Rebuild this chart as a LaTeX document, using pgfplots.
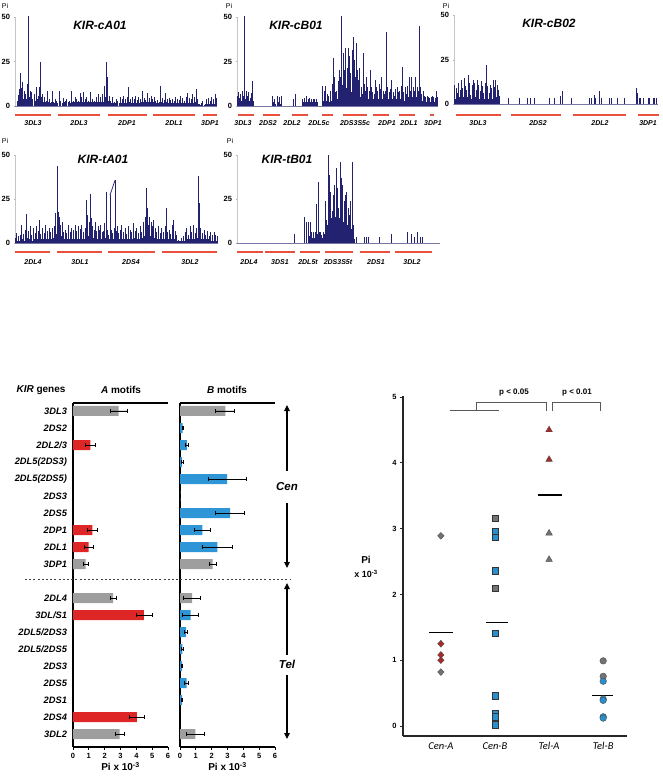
\documentclass[border=0pt]{standalone}
\usepackage{pgfplots}
\pgfplotsset{compat=1.18}
\usepackage{fontspec}
\setmainfont{Liberation Sans}
\newfontfamily\calib{Carlito}
\usetikzlibrary{arrows.meta}
\definecolor{navy}{RGB}{34,34,112}
\definecolor{navyl}{RGB}{120,120,165}
\definecolor{segred}{RGB}{234,80,62}
\definecolor{bgray}{RGB}{158,158,158}
\definecolor{bred}{RGB}{222,38,38}
\definecolor{bblue}{RGB}{46,150,215}
\definecolor{mred}{RGB}{172,40,40}
\definecolor{mgray}{RGB}{115,115,115}
\definecolor{mblue}{RGB}{40,142,206}
\pgfplotsset{
 spk/.style={scale only axis, anchor=south west, ymin=0, ymax=50, ytick={0,25,50}, xtick=\empty,
  axis lines*=left, x axis line style={draw=navyl,line width=0.5pt}, y axis line style={draw=gray!45,line width=0.5pt},
  y tick label style={font=\fontsize{7.5}{8}\selectfont\bfseries}, /pgf/number format/assume math mode=true,
  ytick style={draw=gray!60}, tick align=outside, major tick length=1.5pt, clip=false},
 spkp/.style={ycomb, draw=navy, line width=0.75pt, mark=none},
 ebar/.style={error bars/.cd, x dir=both, x explicit, error bar style={black,line width=0.7pt},
  error mark=|, error mark options={black,line width=0.7pt,mark size=1.9pt}}
}
\tikzset{gl/.style={font=\fontsize{7}{8}\selectfont\bfseries\itshape},
 seg/.style={draw=segred, line width=1.4pt},
 ttl/.style={font=\fontsize{12}{13}\selectfont\bfseries\itshape},
 pil/.style={font=\fontsize{7}{8}\selectfont}}
\begin{document}
\begin{tikzpicture}
\useasboundingbox (0pt,-779pt) rectangle (662pt,0pt);
% ---------- panel 1 KIR-cA01
\begin{axis}[spk, at={(15pt,-106pt)}, width=202pt, height=89pt, xmin=15, xmax=621]
\addplot[spkp] coordinates {(22,3)(25,6)(28,9.6)(30,18.3)(33,10)(35,5)(37,13.5)(40,4)(42,8.7)(45,3)(47,6.7)(50,4)(52,12.5)(55,50.5)(58,5)(60,8.7)(63,3)(65,7.7)(68,4)(72,6.7)(75,3)(78,10.6)(81,4)(84,5.8)(86,2)(88,10.6)(90,4)(92,25)(94,5)(96,6.7)(99,2)(102,4.8)(105,2)(108,2.9)(110,1.5)(113,8.3)(116,2)(118,3.8)(122,1.5)(125,2)(127,8.7)(130,2)(133,1.5)(135,3.8)(138,1.5)(140,2.9)(143,1.5)(147,8.7)(150,2)(152,2.9)(156,1.5)(160,4.4)(163,2)(165,2.9)(168,1.5)(170,3.8)(174,2)(178,2.9)(181,1.5)(185,8.7)(188,2)(190,2.9)(193,2)(195,4.8)(198,2)(200,3.8)(203,2)(205,2.9)(208,2)(210,7.1)(213,2)(215,4.8)(218,2)(220,7.7)(223,2)(225,3.8)(228,2)(230,4.8)(233,2)(235,2.9)(238,2)(242,7.7)(245,2)(248,3.8)(250,2)(253,2.9)(256,2)(258,4.8)(262,2)(265,6.7)(268,2)(272,4.8)(275,2)(278,6.7)(281,2)(283,11.5)(286,5)(288,25)(290,8)(292,16.3)(295,3)(297,5.8)(300,2)(302,2.9)(305,1.5)(307,4.8)(310,1.5)(312,2.5)(315,1.5)(318,3.8)(320,1.5)(323,2.9)(327,1.5)(330,4.8)(333,1.5)(336,3.8)(338,1.5)(341,5.6)(344,1.5)(346,3.8)(349,1.5)(351,5.2)(353,2)(355,10.6)(358,2)(360,3.8)(363,1.5)(366,4.8)(369,1.5)(372,3.8)(374,1.5)(376,5.8)(379,1.5)(381,3.3)(384,1.5)(386,5.2)(389,1.5)(391,3.8)(394,2)(396,8.7)(399,2)(402,4.4)(405,1.5)(407,3.3)(410,2)(412,7.5)(415,2)(418,4.4)(420,2)(423,5.8)(426,2)(428,3.8)(431,2)(433,4.8)(435,1.5)(437,2.9)(440,1.5)(443,3.3)(445,1.5)(447,2.5)(450,1.5)(452,11.5)(455,2)(457,4.4)(460,1.5)(462,3.3)(465,2)(467,7.1)(470,2)(472,3.8)(475,1.5)(477,4.4)(480,1.5)(482,3.3)(485,1.5)(488,4.2)(490,1.5)(492,2.9)(495,1.5)(497,5.2)(500,1.5)(502,3.8)(505,1.5)(508,3.3)(510,1.5)(512,5.8)(515,1.5)(517,4.4)(520,1.5)(522,2.9)(525,1.5)(528,4.8)(531,1.5)(533,7.1)(536,1.5)(538,4.4)(541,1.5)(543,3.8)(546,1.5)(548,6.7)(551,1.5)(553,5.2)(556,2)(558,9.6)(561,2)(563,3.8)(566,1)(568,1)(570,0.5)(573,1.9)(576,0.5)(578,2.9)(582,0.5)(585,1.3)(588,1)(590,3.8)(593,1)(595,4.4)(598,1)(600,2.9)(603,1)(605,5.2)(608,1)(610,3.8)(613,1)(615,6.7)(618,1)(620,4.4)};
\end{axis}
% ---------- panel 2 KIR-cB01
\begin{axis}[spk, at={(237pt,-106pt)}, width=201pt, height=89pt, xmin=15, xmax=618]
\addplot[spkp] coordinates {(15,5.8)(17,2)(18,7.7)(20,3)(22,4.4)(24,2)(26,6.7)(28,3)(30,8.7)(32,2)(33,5.8)(35,3)(36,14)(37,5)(38,50.5)(40,4)(42,8.7)(44,3)(46,5.8)(48,2)(50,7.7)(52,3)(54,4.4)(56,2)(58,7.1)(60,3)(62,14)(64,3)(65,2.9)
(122,5.8)(125,2)(128,3.8)(131,1)(135,5.8)(138,2)(142,4.8)(145,1)(148,5.8)(185,3.8)(190,6.7)
(210,2)(212,3.8)(215,2)(217,4.4)(220,2)(222,5.8)(225,2)(228,3.8)(230,2)(233,4.4)(235,2)(238,3.8)(240,2)(243,3.8)(245,2)(248,3.8)(250,2)(253,3.8)(255,2)
(272,11.5)(274,3)(276,8.7)(278,3)(280,11.5)(282,3)(285,6.7)(287,2)(290,5.8)(292,2)(295,8.7)(297,3)(300,12.5)(302,5)(303,27)(305,8)(306,16.3)(308,5)(310,7.7)(312,4)(314,8.7)(316,4)(318,14)(320,6)(322,20.2)(324,8)(325,16.3)(327,10)(329,50.5)(331,12)(333,30)(335,10)(337,20.2)(339,8)(341,32.7)(343,10)(345,21.2)(347,9)(349,32.7)(351,12)(353,27.9)(355,10)(356,18.3)(358,8)(360,31.7)(362,10)(363,38.5)(365,8)(366,26)(368,8)(370,16.3)(372,6)(373,35.6)(375,8)(376,20.2)(378,6)(380,14.4)(382,5)(383,21.2)(385,5)(387,10.6)(389,4)(390,6.7)(392,5)(393,30)(395,5)(397,12.5)(399,4)(400,8.7)(402,5)(404,16.3)(406,5)(407,10.6)(409,4)(411,8.7)(413,5)(414,20.2)(416,5)(418,10.6)(420,4)(422,7.7)(424,4)(426,6.7)(428,4)(430,14.4)(432,5)(433,10.6)(435,4)(437,8.7)(439,4)(441,12.5)(443,4)(445,9.6)(447,4)(449,16.3)(451,4)(453,8.7)(455,3)(456,6.7)(458,3)(460,8.7)(462,4)(463,41.3)(465,5)(467,10.6)(469,4)(471,7.7)(473,4)(475,9.6)(477,4)(479,14.4)(481,4)(483,7.7)(485,3)(487,5.8)(489,3)(491,9.6)(493,4)(495,10.6)(497,4)(499,7.7)(501,3)(503,8.7)(505,4)(507,11.5)(509,4)(511,22.1)(513,4)(515,7.7)(517,3)(519,10.6)(521,4)(523,6.7)(525,3)(527,11.5)(529,5)(531,16.3)(533,5)(535,8.7)(537,4)(539,16.3)(541,5)(543,10.6)(545,4)(547,8.7)(549,4)(551,16.3)(553,5)(555,10.6)(557,4)(559,8.7)(561,5)(562,44.8)(564,5)(565,10.6)(567,3)(569,6.7)(571,3)(573,8.7)(575,3)(577,5.8)(579,2)(581,4.8)(583,2)(585,5.8)(587,2)(589,5.2)(591,2)(593,4.4)(595,2)(597,5.2)(599,2)(601,5.8)(603,2)(605,4.8)(607,2)(609,4.4)(611,2)(613,8.7)(615,2)(617,4.8)};
\end{axis}
% ---------- panel 3 KIR-cB02
\begin{axis}[spk, at={(454pt,-104pt)}, width=204pt, height=88.6pt, xmin=370, xmax=985]
\addplot[spkp] coordinates {(372,10.9)(374,3)(376,9)(378,3)(380,6.2)(382,3)(384,11.8)(386,4)(388,8)(390,4)(392,13.7)(394,4)(396,9)(398,4)(400,14.6)(402,5)(404,10.3)(406,4)(408,8)(410,4)(412,16.5)(414,5)(416,11.8)(418,4)(420,5.3)(422,3)(424,10.9)(426,4)(428,13.7)(430,4)(432,11.8)(434,4)(436,8)(438,3)(440,13.7)(442,4)(444,10.9)(446,3)(448,7.1)(450,3)(452,12.8)(454,4)(456,9.9)(458,3)(460,6.2)(462,3)(464,11.8)(466,5)(468,21.8)(470,5)(472,9.9)(474,3)(476,6.2)(478,3)(480,10.9)(482,3)(484,9)(486,3)(488,13.7)(490,4)(492,9.4)(494,4)(496,13.7)(498,4)(500,10.9)(502,3)(504,7.7)(506,2)(508,4.3)
(535,3.4)(568,3.4)(592,3.4)(600,3.4)(612,3.4)(656,3.4)(672,3.4)(692,4.3)(697,7.1)(725,3.4)(778,3.4)(783,3.4)(793,5.3)(797,3.4)(808,7.1)(813,3.4)(838,3.4)(843,3.4)(862,3.4)(885,3.4)(920,9)(924,6.2)(928,3.4)(933,3.4)(940,3.4)(955,3.4)(960,3.4)(970,3.4)(975,3.4)(980,3.4)};
\end{axis}
% ---------- panel 4 KIR-tA01
\begin{axis}[spk, at={(15pt,-243pt)}, width=203pt, height=88pt, xmin=15, xmax=624]
\addplot[spkp] coordinates {(15,2.8)(17,1)(20,5.6)(22,1)(25,3.7)(27,1)(30,4.7)(32,1)(35,10.3)(37,2)(40,5)(42,1)(45,7.5)(47,2)(50,16.3)(52,3)(55,6.6)(57,2)(60,9.4)(62,2)(65,4.7)(67,1)(70,8.4)(72,2)(75,5.6)(77,2)(80,9.4)(82,2)(85,6.9)(86,2)(88,13.1)(90,2)(92,5)(94,2)(97,8.4)(99,2)(102,5.6)(104,2)(107,10.3)(109,2)(112,6.6)(114,2)(117,8.4)(119,2)(122,6)(124,2)(127,8.4)(129,3)(132,9.9)(134,3)(137,16.9)(139,5)(142,43.6)(143,8)(145,17.8)(146,6)(148,15)(150,5)(152,10.3)(154,4)(156,12.2)(158,3)(160,6)(162,2)(165,7.5)(167,2)(170,5.6)(172,2)(175,10.3)(177,2)(180,6)(182,2)(185,8.4)(187,2)(190,7.5)(192,2)(195,10.3)(197,2)(200,6.9)(202,2)(205,9.4)(207,2)(210,8.1)(212,2)(215,10.3)(217,2)(220,6)(222,2)(225,8.4)(227,3)(230,24.3)(232,5)(233,15.9)(235,4)(237,12.2)(239,4)(240,28.1)(241,5)(243,14)(245,3)(247,9.4)(249,3)(252,7.5)(254,3)(256,12.2)(258,3)(260,6.6)(262,2)(265,9.4)(267,2)(268,7.5)(270,2)(272,10.3)(274,2)(276,6)(278,2)(280,6.9)(282,2)(284,11.2)(286,3)(288,29)(290,5)(292,7.5)(294,2)(296,4.7)(298,2)(300,27.2)(302,4)(304,7.5)(306,2)(308,5.6)(310,2)(312,8.4)(314,3)(315,35.6)(316,5)(318,6.6)(320,2)(322,9.4)(324,2)(326,5.6)(328,2)(330,7.5)(332,2)(335,10.3)(337,2)(340,6)(342,2)(345,8.4)(347,2)(350,5)(352,2)(355,9.4)(357,2)(360,7.5)(362,2)(365,6)(367,2)(370,11.2)(372,3)(375,6.6)(377,2)(380,8.4)(382,2)(385,5.6)(387,2)(390,9.4)(392,2)(395,6)(397,3)(400,12.2)(402,4)(405,15)(407,5)(409,31.3)(410,8)(412,19.7)(414,5)(415,10.3)(417,4)(419,15)(421,4)(423,12.2)(425,3)(427,9.4)(429,3)(431,13.1)(433,3)(435,8.4)(437,2)(440,6)(442,2)(445,9.4)(447,2)(450,5.6)(452,2)(455,8.4)(457,2)(460,6)(462,2)(465,9.4)(467,3)(468,19.7)(470,3)(472,6)(474,2)(477,7.5)(479,2)(482,5)(484,2)(487,10.3)(489,2)(490,13.1)(492,2)(495,6.9)(497,2)(500,4.7)(502,1)(505,1.9)(507,1)(510,1.3)(512,1)(515,2.8)(517,1)(520,3.7)(522,1)(525,6)(527,1)(530,8.4)(532,2)(535,4.7)(537,2)(540,9.4)(542,2)(545,6)(547,2)(550,10.3)(552,2)(555,5.6)(557,2)(560,8.8)(562,3)(565,38)(566,8)(568,22.5)(570,4)(572,8.4)(574,2)(577,5.6)(579,2)(582,7.5)(584,2)(587,4.7)(589,2)(592,6.6)(594,2)(597,3.7)(599,1)(602,6)(604,1)(607,4.7)(609,1)(612,6)(614,1)(617,4.7)(619,1)(621,3.7)};
\addplot[draw=navy, line width=0.75pt, mark=none] coordinates {(300,27.2)(315,35.6)};
\end{axis}
% ---------- panel 5 KIR-tB01
\begin{axis}[spk, at={(237pt,-243pt)}, width=203pt, height=88pt, xmin=711, xmax=1320]
\addplot[spkp] coordinates {(882,5.1)(912,14.5)(914,4)(918,11.7)(920,4)(925,11.7)(927,4)(930,11.7)(932,4)(935,6.4)(938,3)(940,6.4)(942,3)(945,6.4)(947,3)(950,22)(952,5)(955,34.9)(957,6)(960,6.4)(962,3)(965,4.7)(967,3)(970,6.4)(972,5)(975,23.6)(977,8)(980,13)(982,10)(984,20)(985,50)(986,15)(988,38.7)(990,12)(992,29)(994,14)(996,17.9)(998,10)(1000,27.4)(1002,12)(1004,33)(1006,15)(1008,42.5)(1010,18)(1012,31)(1014,12)(1016,19.8)(1018,14)(1020,46.2)(1022,16)(1024,36.8)(1026,14)(1028,33)(1030,12)(1032,23.6)(1034,10)(1036,27.4)(1038,12)(1040,29.2)(1042,10)(1044,19.8)(1046,8)(1048,16)(1050,10)(1052,23.6)(1054,8)(1056,46.2)(1058,6)(1060,10.4)(1062,2)
(1070,3.2)(1092,3.2)(1098,3.2)(1104,3.2)(1138,3.2)(1175,5.1)(1222,6.2)(1233,5.3)(1242,3.2)(1252,6)(1260,3.6)(1268,3.6)};
\end{axis}
% ---------- annotations top
\node[pil] at (5pt,-6pt) {Pi};
\node[pil] at (229pt,-6pt) {Pi};
\node[pil] at (446pt,-6pt) {Pi};
\node[pil] at (5pt,-141pt) {Pi};
\node[pil] at (230pt,-141pt) {Pi};
\node[ttl] at (100pt,-25pt) {KIR-cA01};
\node[ttl] at (296pt,-25pt) {KIR-cB01};
\node[ttl] at (549pt,-23pt) {KIR-cB02};
\node[ttl] at (103pt,-159pt) {KIR-tA01};
\node[ttl] at (287pt,-159pt) {KIR-tB01};
% red segments row 1
\foreach \a/\b in {15/51,58/100,108/147,153/195,203/217,238/254,263/280,292/308,322/333,343/367,373/389,399/415,430/434,456/501,511/561,573/626,638/659}
  \draw[seg] (\a pt,-115pt) -- (\b pt,-115pt);
\foreach \c/\t in {33/3DL3,79/2DL3,127/2DP1,174/2DL1,210/3DP1,243/3DL3,268/2DS2,292/2DL2,319/2DL5c,355/2DS3S5c,387/2DP1,409/2DL1,433/3DP1,478/3DL3,538/2DS2,600/2DL2,648/3DP1}
  \node[gl] at (\c pt,-123.5pt) {\t};
\foreach \a/\b in {15/50,57/102,108/155,162/217,237/263,265/295,300/320,325/353,360/390,395/432}
  \draw[seg] (\a pt,-252pt) -- (\b pt,-252pt);
\foreach \c/\t in {33/2DL4,80/3DL1,131/2DS4,190/3DL2,249/2DL4,280/3DS1,308/2DL5t,338/2DS3S5t,376/2DS1,412/3DL2}
  \node[gl] at (\c pt,-262pt) {\t};
% ---------- bar chart A motifs
\begin{axis}[at={(73pt,-747pt)}, anchor=south west, scale only axis, width=95pt, height=344pt,
  xmin=0, xmax=6, ymin=-19.76, ymax=0.47, axis lines*=left, axis line style={line width=1.3pt},
  xtick={0,1,2,3,4,5,6}, ytick={-19,-18,-17,-16,-15,-14,-13,-12,-11,-9,-8,-7,-6,-5,-4,-3,-2,-1,0},
  yticklabels={{3DL2},{2DS4},{2DS1},{2DS5},{2DS3},{2DL5/2DS5},{2DL5/2DS3},{3DL/S1},{2DL4},{3DP1},{2DL1},{2DP1},{2DS5},{2DS3},{2DL5(2DS5)},{2DL5(2DS3)},{2DL2/3},{2DS2},{3DL3}},
  y tick label style={font=\fontsize{9.3}{10}\selectfont\bfseries\itshape},
  x tick label style={font=\fontsize{7.5}{8}\selectfont\bfseries},
  ytick style={draw=none}, xtick style={line width=0.8pt,black}, tick align=outside, major tick length=2.5pt,
  /pgf/number format/assume math mode=true, clip=false,
  xlabel={Pi x 10\textsuperscript{-3}}, xlabel style={font=\fontsize{10}{11}\selectfont\bfseries, yshift=3pt}]
\addplot[xbar, bar shift=0pt, bar width=10pt, fill=bgray, draw=none, ebar]
  coordinates {(2.88,0) +- (0.55,0) (0.80,-9) +- (0.17,0) (2.53,-11) +- (0.2,0) (2.95,-19) +- (0.3,0)};
\addplot[xbar, bar shift=0pt, bar width=10pt, fill=bred, draw=none, ebar]
  coordinates {(1.09,-2) +- (0.3,0) (1.22,-7) +- (0.33,0) (0.99,-8) +- (0.28,0) (4.48,-12) +- (0.5,0) (4.04,-18) +- (0.49,0)};
\draw[line width=1.3pt] (rel axis cs:0,1) -- (rel axis cs:1,1);
\end{axis}
% ---------- bar chart B motifs
\begin{axis}[at={(180pt,-747pt)}, anchor=south west, scale only axis, width=95pt, height=344pt,
  xmin=0, xmax=6, ymin=-19.76, ymax=0.47, axis lines*=left, axis line style={line width=1.3pt},
  xtick={0,1,2,3,4,5,6}, ytick=\empty,
  x tick label style={font=\fontsize{7.5}{8}\selectfont\bfseries},
  xtick style={line width=0.8pt,black}, tick align=outside, major tick length=2.5pt,
  /pgf/number format/assume math mode=true, clip=false,
  xlabel={Pi x 10\textsuperscript{-3}}, xlabel style={font=\fontsize{10}{11}\selectfont\bfseries, yshift=3pt}]
\addplot[xbar, bar shift=0pt, bar width=10pt, fill=bgray, draw=none, ebar]
  coordinates {(2.86,0) +- (0.6,0) (2.06,-9) +- (0.23,0) (0.76,-11) +- (0.53,0) (0.97,-19) +- (0.57,0)};
\addplot[xbar, bar shift=0pt, bar width=10pt, fill=bblue, draw=none, ebar]
  coordinates {(0.17,-1) +- (0.05,0) (0.44,-2) +- (0.08,0) (0.13,-3) +- (0.05,0) (2.97,-4) +- (1.2,0) (0.02,-5) +- (0.02,0) (3.16,-6) +- (0.92,0) (1.41,-7) +- (0.5,0) (2.36,-8) +- (0.97,0) (0.67,-12) +- (0.5,0) (0.38,-13) +- (0.1,0) (0.15,-14) +- (0.05,0) (0.13,-15) +- (0.04,0) (0.42,-16) +- (0.12,0) (0.13,-17) +- (0.04,0)};
\draw[line width=1.3pt] (rel axis cs:0,1) -- (rel axis cs:1,1);
\end{axis}
% bar chart annotations
\node[font=\fontsize{10}{12}\selectfont\bfseries] at (41pt,-390pt) {{\itshape KIR} genes};
\node[font=\fontsize{10}{12}\selectfont\bfseries] at (121pt,-390pt) {{\itshape A} motifs};
\node[font=\fontsize{10}{12}\selectfont\bfseries] at (227pt,-390pt) {{\itshape B} motifs};
\draw[black!75, line width=1pt, dash pattern=on 2pt off 2.2pt] (25pt,-579pt) -- (290pt,-579pt);
\draw[line width=1.1pt, -{Triangle[length=6pt,width=5.5pt]}] (287pt,-471pt) -- (287pt,-405pt);
\draw[line width=1.1pt, -{Triangle[length=6pt,width=5.5pt]}] (287pt,-503pt) -- (287pt,-568pt);
\node[font=\fontsize{11.5}{12}\selectfont\bfseries\itshape] at (287pt,-487pt) {Cen};
\draw[line width=1.1pt, -{Triangle[length=6pt,width=5.5pt]}] (287pt,-655pt) -- (287pt,-583pt);
\draw[line width=1.1pt, -{Triangle[length=6pt,width=5.5pt]}] (287pt,-675pt) -- (287pt,-739pt);
\node[font=\fontsize{11.5}{12}\selectfont\bfseries\itshape] at (287pt,-664pt) {Tel};
% ---------- scatter
\begin{axis}[at={(403pt,-736pt)}, anchor=south west, scale only axis, width=224pt, height=340pt,
  xmin=0.3, xmax=4.44, ymin=-0.152, ymax=5.015, axis lines*=left, axis line style={line width=1.2pt, black!85},
  xtick={1,2,3,4}, xticklabels={Cen-A,Cen-B,Tel-A,Tel-B},
  x tick label style={font=\calib\fontsize{10.5}{11}\selectfont\itshape},
  ytick={0,1,2,3,4,5}, y tick label style={font=\fontsize{7.5}{8}\selectfont\bfseries},
  xtick style={draw=none}, ytick style={line width=0.8pt, black!85}, tick align=outside, major tick length=3pt,
  /pgf/number format/assume math mode=true, clip=false]
\addplot[black, line width=1.3pt] coordinates {(0.78,1.42)(1.22,1.42)};
\addplot[black, line width=1.3pt] coordinates {(1.83,1.57)(2.24,1.57)};
\addplot[black, line width=1.3pt] coordinates {(2.80,3.51)(3.24,3.51)};
\addplot[black, line width=1.3pt] coordinates {(3.79,0.46)(4.18,0.46)};
\addplot[only marks, mark=diamond*, mark size=3.4pt, mark options={fill=mgray, draw=black!70, line width=0.4pt, xscale=1.25}] coordinates {(1,2.89)(1,0.82)};
\addplot[only marks, mark=diamond*, mark size=3.4pt, mark options={fill=mred, draw=black!70, line width=0.4pt, xscale=1.25}] coordinates {(1,1.25)(1,1.08)(1,1.00)};
\addplot[only marks, mark=square*, mark size=3.2pt, mark options={fill=mgray, draw=black!80, line width=0.5pt}] coordinates {(2,3.16)(2,2.09)};
\addplot[only marks, mark=square*, mark size=3.2pt, mark options={fill=mblue, draw=black!80, line width=0.5pt}] coordinates {(2,2.95)(2,2.87)(2,2.36)(2,1.41)(2,0.46)(2,0.19)(2,0.14)(2,0.02)};
\addplot[only marks, mark=triangle*, mark size=3.8pt, mark options={fill=mred, draw=black!70, line width=0.4pt}] coordinates {(3,4.50)(3,4.05)};
\addplot[only marks, mark=triangle*, mark size=3.8pt, mark options={fill=mgray, draw=black!70, line width=0.4pt}] coordinates {(3,2.93)(3,2.53)};
\addplot[only marks, mark=*, mark size=3.3pt, mark options={fill=mgray, draw=black!70, line width=0.4pt}] coordinates {(4,0.99)(4,0.755)};
\addplot[only marks, mark=*, mark size=3.3pt, mark options={fill=mblue, draw=black!70, line width=0.4pt}] coordinates {(4,0.68)(4,0.41)(4,0.39)(4,0.14)(4,0.12)};
\draw[black!65, line width=0.9pt] (axis cs:1.17,4.79) -- (axis cs:2.07,4.79);
\draw[black!65, line width=0.9pt] (axis cs:1.65,4.79) -- (axis cs:1.65,4.91) -- (axis cs:2.96,4.91) -- (axis cs:2.96,4.79);
\draw[black!65, line width=0.9pt] (axis cs:3.07,4.79) -- (axis cs:3.07,4.91) -- (axis cs:3.94,4.91) -- (axis cs:3.94,4.79);
\end{axis}
\node[font=\fontsize{8}{9}\selectfont\bfseries] at (514pt,-393pt) {p < 0.05};
\node[font=\fontsize{8}{9}\selectfont\bfseries] at (577pt,-393pt) {p < 0.01};
\node[font=\fontsize{10}{11}\selectfont\bfseries] at (366pt,-560pt) {Pi};
\node[font=\fontsize{9}{10}\selectfont\bfseries] at (366pt,-574pt) {x 10\textsuperscript{-3}};
\end{tikzpicture}
\end{document}
